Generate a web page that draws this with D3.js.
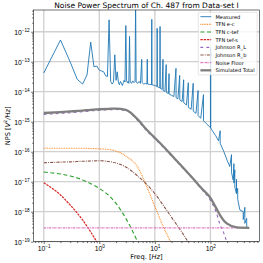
<!DOCTYPE html>
<html>
<head>
<meta charset="utf-8">
<script src="https://cdn.jsdelivr.net/npm/d3@7/dist/d3.min.js"></script>
<style>
  html, body { margin: 0; padding: 0; background: #fff; }
  svg { display: block; font-family: 'DejaVu Sans', sans-serif; }
</style>
</head>
<body>
<svg id="chart" width="263" height="263"></svg>
<script>
// measured spectrum (Hz -> V^2/Hz)
const measuredFreq = [
  0.1, 0.2, 0.3, 0.4, 0.5, 0.6, 0.7, 0.8, 0.9, 1.0, 1.1, 1.2, 1.3, 1.4, 1.5, 1.6, 1.7, 1.8, 1.9, 2.0,
  2.1, 2.2, 2.3, 2.4, 2.5, 2.6, 2.7, 2.8, 2.9, 3.0, 3.1, 3.2, 3.3, 3.4, 3.5, 3.6, 3.8, 4.0, 4.2, 4.4,
  4.5, 4.6, 4.9, 5.2, 5.5, 5.8, 5.9, 6.3, 6.8, 7.2, 7.3, 7.4, 8.0, 8.7, 8.8, 8.9, 9.5, 10.2, 10.9, 11.0,
  11.1, 11.8, 12.3, 12.4, 12.5, 13.5, 14.0, 14.1, 15.2, 16.0, 16.1, 17.5, 18.0, 18.1, 20.0, 22.0, 24.0, 24.1, 26.0, 28.0,
  28.1, 31.0, 33.0, 33.1, 37.0, 40.0, 40.1, 45.0, 49.0, 49.1, 55.0, 60.0, 60.1, 67.0, 75.0, 75.1, 85.0, 95.0, 100.9, 101.0,
  101.1, 110, 125, 140, 150, 150.1, 175, 200, 215, 223, 240, 240.1, 257, 265, 265.1, 275, 275.1, 294, 295, 295.1,
  310, 310.1, 339, 390, 390.1, 417, 417.1, 450, 450.1, 480, 500
]
const measuredNps = [
  4.2e-14, 5.3e-13, 9.7e-14, 2.6e-14, 1.8e-14, 3.6e-14, 4.5e-13, 6.8e-14, 7.2e-14, 5.2e-14, 4.9e-14, 4.6e-14, 3.4e-14, 3.2e-14, 2.5e-12, 2.2e-14, 1.8e-14, 2.1e-14, 1.7e-13, 2.4e-14,
  4.6e-14, 2.1e-14, 1.7e-14, 2.2e-14, 1.9e-14, 1.6e-14, 2.0e-14, 2.4e-14, 2.1e-14, 1.6e-12, 2.3e-14, 2.0e-14, 2.2e-14, 1.9e-14, 7.0e-13, 2.1e-14, 1.9e-14, 2.3e-14, 2.0e-14, 2.2e-14,
  1.2e-11, 2.1e-14, 1.9e-14, 2.2e-14, 1.9e-14, 1.2e-13, 2.0e-14, 1.8e-14, 1.9e-14, 1.8e-14, 1.2e-13, 1.8e-14, 1.75e-14, 1.7e-14, 2.6e-12, 1.7e-14, 1.65e-14, 1.6e-14, 1.5e-14, 1.3e-12,
  1.45e-14, 1.4e-14, 1.35e-14, 1.5e-12, 1.3e-14, 1.2e-14, 1.2e-13, 1.1e-14, 1.03e-14, 8e-14, 9.5e-15, 8.7e-15, 4e-14, 8.3e-15, 7.6e-15, 6.9e-15, 6e-14, 6.3e-15, 5.8e-15, 3.5e-14,
  5.3e-15, 4.7e-15, 2.5e-14, 4.3e-15, 3.6e-15, 2e-14, 3.0e-15, 2.6e-15, 1.9e-14, 2.25e-15, 1.9e-15, 1.1e-14, 1.6e-15, 1.3e-15, 8e-15, 1.08e-15, 8.5e-16, 7e-16, 6.3e-16, 3e-13,
  6.2e-16, 4.8e-16, 3.4e-16, 2.3e-16, 5e-16, 1.9e-16, 1.0e-16, 5.2e-17, 3.8e-17, 3.2e-17, 8e-17, 2e-17, 1.15e-17, 4e-17, 9e-18, 2.5e-17, 6.5e-18, 4.1e-18, 1.2e-17, 4e-18,
  6e-18, 2.6e-18, 1.15e-18, 1e-18, 5.5e-19, 1.4e-18, 4.1e-19, 6e-19, 3.3e-19, 2.8e-19, 2.7e-19
]

// fitted model components, sampled at these frequencies
const modelFreq = [0.1, 0.2, 0.3, 0.5, 0.7, 1, 1.5, 2, 3, 5, 7, 10, 15, 20, 30, 50, 70, 100, 125, 150, 175, 200, 300, 500]
const tfnEC = [1.3e-16, 1.3e-16, 1.3e-16, 1.3e-16, 1.28e-16, 1.25e-16, 1.18e-16, 1.05e-16, 7.2e-17, 2.9e-17, 7.5e-18, 1.5e-18,
  2.5e-19, 8.5e-20, 1.2e-20, 1e-21, 2e-22, 3e-23, 1e-23, 5e-24, 3e-24, 2e-24, 5e-25, 1e-25]
const tfnCTef = [2.1e-17, 1.8e-17, 1.55e-17, 1.15e-17, 8.6e-18, 6e-18, 3.4e-18, 1.9e-18, 6e-19, 9e-20, 2e-20, 3e-21,
  4e-22, 1e-22, 1e-23, 1e-24, 3e-25, 1e-25, 5e-26, 3e-26, 2e-26, 1e-26, 3e-27, 1e-27]
const tfnTefS = [9.3e-18, 3.6e-18, 1.65e-18, 5.3e-19, 2.1e-19, 7e-20, 1.5e-20, 4e-21, 5e-22, 3e-23, 5e-24, 8e-25,
  1e-25, 3e-26, 4e-27, 3e-28, 6e-29, 1e-29, 5e-30, 3e-30, 2e-30, 1e-30, 2e-31, 3e-32]
const johnsonRL = [1.75e-15, 1.9e-15, 2.0e-15, 2.15e-15, 2.3e-15, 2.4e-15, 2.5e-15, 2.55e-15, 2.35e-15, 1.07e-15, 5.2e-16, 2.7e-16,
  1.27e-16, 7.2e-17, 3.2e-17, 1.15e-17, 5.5e-18, 2.4e-18, 1.05e-18, 3.6e-19, 1.9e-19, 9e-20, 5e-21, 1e-22]
const johnsonRb = [4.3e-17, 4.5e-17, 4.6e-17, 4.8e-17, 4.9e-17, 5e-17, 4.7e-17, 4.2e-17, 3.1e-17, 1.5e-17, 8.5e-18, 4e-18,
  1.4e-18, 6.5e-19, 2.2e-19, 5e-20, 2e-20, 6e-21, 3e-21, 2e-21, 1.2e-21, 8e-22, 2e-22, 4e-23]
const noiseFloor = [2.9e-19, 2.9e-19, 2.9e-19, 2.9e-19, 2.9e-19, 2.9e-19, 2.9e-19, 2.9e-19, 2.9e-19, 2.9e-19, 2.9e-19, 2.9e-19,
  2.9e-19, 2.9e-19, 2.9e-19, 2.9e-19, 2.9e-19, 2.9e-19, 2.9e-19, 2.9e-19, 2.9e-19, 2.9e-19, 2.9e-19, 2.9e-19]
const simulatedTotal = [1.95e-15, 2.1e-15, 2.2e-15, 2.35e-15, 2.5e-15, 2.6e-15, 2.7e-15, 2.75e-15, 2.5e-15, 1.15e-15, 5.6e-16, 2.9e-16,
  1.35e-16, 7.6e-17, 3.4e-17, 1.2e-17, 5.9e-18, 2.9e-18, 1.4e-18, 7.5e-19, 5e-19, 4e-19, 3e-19, 2.9e-19]

const seriesLabels = ['Measured', 'TFN e-c', 'TFN c-tef', 'TFN tef-s', 'Johnson R_L', 'Johnson R_b', 'Noise Floor', 'Simulated Total']
const xTickValues = [0.1, 1, 10, 100]
const yTickValues = [1e-19, 1e-18, 1e-17, 1e-16, 1e-15, 1e-14, 1e-13, 1e-12]

//global layout
const w = 263
const h = 263
const plot = { left: 33.5, right: 259.5, top: 10, bottom: 241.7 }

// matplotlib-ish 5% log margin on the frequency axis
const fLo = Math.log10(d3.min(measuredFreq))
const fHi = Math.log10(d3.max(measuredFreq))
const fPad = (fHi - fLo) * 0.05

const x = d3.scaleLog()
            .domain([Math.pow(10, fLo - fPad), Math.pow(10, fHi + fPad)])
            .range([plot.left, plot.right])
const y = d3.scaleLog()
            .domain([1e-19, 5.3e-12])
            .range([plot.bottom, plot.top])

const styles = [
  { color: '#1f77b4', width: 0.9, dash: null },
  { color: '#ff7f0e', width: 1.1, dash: '0.8,0.9' },
  { color: '#2ca02c', width: 1.1, dash: '4,2.6' },
  { color: '#d62728', width: 1.2, dash: '2.4,0.9' },
  { color: '#9467bd', width: 1.1, dash: '2.8,3.2' },
  { color: '#8c564b', width: 1.1, dash: '3.2,1.1,0.9,1.1' },
  { color: '#e377c2', width: 1.1, dash: '2.4,0.8,0.8,0.8' },
  { color: '#7f7f7f', width: 2.3, dash: null }
]

const modelValues = [tfnEC, tfnCTef, tfnTefS, johnsonRL, johnsonRb, noiseFloor, simulatedTotal]
const series = [
  { label: seriesLabels[0], points: measuredFreq.map((f, i) => [f, measuredNps[i]]), curve: d3.curveLinear, ...styles[0] },
  ...modelValues.map((vals, k) => ({
    label: seriesLabels[k + 1],
    points: modelFreq.map((f, i) => [f, vals[i]]),
    curve: d3.curveMonotoneX,
    ...styles[k + 1]
  }))
]

const svg = d3.select('#chart')
svg.append('rect').attr('width', w).attr('height', h).attr('fill', '#fff')

svg.append('defs').append('clipPath').attr('id', 'plot-clip')
   .append('rect')
   .attr('x', plot.left).attr('y', plot.top)
   .attr('width', plot.right - plot.left).attr('height', plot.bottom - plot.top)

// grid
const grid = svg.append('g').attr('stroke', '#d0d0d0').attr('stroke-width', 1.3)
grid.selectAll('.gx').data(xTickValues).join('line')
    .attr('x1', d => x(d)).attr('x2', d => x(d))
    .attr('y1', plot.top).attr('y2', plot.bottom)
grid.selectAll('.gy').data(yTickValues).join('line')
    .attr('x1', plot.left).attr('x2', plot.right)
    .attr('y1', d => y(d)).attr('y2', d => y(d))

// curves
const line = d3.line().x(d => x(d[0])).y(d => y(Math.max(d[1], 1e-40)))
svg.append('g').attr('clip-path', 'url(#plot-clip)')
   .selectAll('path')
   .data(series)
   .join('path')
   .attr('d', s => line.curve(s.curve)(s.points))
   .attr('fill', 'none')
   .attr('stroke', s => s.color)
   .attr('stroke-width', s => s.width)
   .attr('stroke-dasharray', s => s.dash)
   .attr('stroke-linejoin', 'round')

// axes
const sup = v => String(Math.round(Math.log10(v))).replace('-', '\u2212')
const powLabel = (text, v) => {
  text.append('tspan').text('10')
  text.append('tspan').attr('font-size', 4.7).attr('dy', -3).text(sup(v))
}

const isMajor = (ticks, t) => ticks.some(m => Math.abs(m - t) / m < 1e-6)
const xMinor = x.ticks().filter(t => !isMajor(xTickValues, t))
const yMinor = y.ticks().filter(t => !isMajor(yTickValues, t))

const xAxis = svg.append('g').attr('transform', `translate(0,${plot.bottom})`)
xAxis.append('g').call(d3.axisBottom(x).tickValues(xMinor).tickSize(1.4).tickFormat(''))
const xMajor = xAxis.append('g').call(d3.axisBottom(x).tickValues(xTickValues).tickSize(2.4).tickFormat(''))
xAxis.selectAll('.domain').remove()
xAxis.selectAll('.tick line').attr('stroke-width', 0.55)
xAxis.selectAll('.tick text').remove()
xMajor.selectAll('.tick')
      .append('text')
      .attr('y', 9.6)
      .attr('text-anchor', 'middle')
      .attr('font-size', 6.8)
      .attr('fill', '#000')
      .each(function (d) { powLabel(d3.select(this), d) })

const yAxis = svg.append('g').attr('transform', `translate(${plot.left},0)`)
yAxis.append('g').call(d3.axisLeft(y).tickValues(yMinor).tickSize(1.4).tickFormat(''))
const yMajor = yAxis.append('g').call(d3.axisLeft(y).tickValues(yTickValues).tickSize(2.4).tickFormat(''))
yAxis.selectAll('.domain').remove()
yAxis.selectAll('.tick line').attr('stroke-width', 0.55)
yAxis.selectAll('.tick text').remove()
yMajor.selectAll('.tick')
      .append('text')
      .attr('x', -3.8)
      .attr('y', 2.4)
      .attr('text-anchor', 'end')
      .attr('font-size', 6.8)
      .attr('fill', '#000')
      .each(function (d) { powLabel(d3.select(this), d) })

// frame
svg.append('rect')
   .attr('x', plot.left).attr('y', plot.top)
   .attr('width', plot.right - plot.left).attr('height', plot.bottom - plot.top)
   .attr('fill', 'none').attr('stroke', '#000').attr('stroke-width', 0.55)

// title + labels
const midX = (plot.left + plot.right) / 2
svg.append('text')
   .attr('x', midX).attr('y', 7.9)
   .attr('text-anchor', 'middle')
   .attr('font-size', 7.5)
   .text('Noise Power Spectrum of Ch. 487 from Data-set I')

const xLabel = svg.append('text')
   .attr('x', midX).attr('y', 259.3)
   .attr('text-anchor', 'middle')
   .attr('font-size', 6.7)
xLabel.append('tspan').text('Freq. [')
xLabel.append('tspan').attr('font-style', 'italic').text('Hz')
xLabel.append('tspan').text(']')

const yLabel = svg.append('text')
   .attr('transform', `translate(9.6,${(plot.top + plot.bottom) / 2}) rotate(-90)`)
   .attr('text-anchor', 'middle')
   .attr('font-size', 6.7)
yLabel.append('tspan').text('NPS [')
yLabel.append('tspan').attr('font-style', 'italic').text('V')
yLabel.append('tspan').attr('font-size', 4.6).attr('dy', -2.8).text('2')
yLabel.append('tspan').attr('dy', 2.8).attr('font-style', 'italic').text('/Hz')
yLabel.append('tspan').text(']')

// legend
const legendBox = { x: 198.3, y: 12.3, w: 58.8, h: 62.6 }
const rowH = 7.66
const legend = svg.append('g')
legend.append('rect')
      .attr('x', legendBox.x).attr('y', legendBox.y)
      .attr('width', legendBox.w).attr('height', legendBox.h)
      .attr('rx', 1).attr('ry', 1)
      .attr('fill', '#fff').attr('fill-opacity', 0.8)
      .attr('stroke', '#cccccc').attr('stroke-width', 0.5)

const rows = legend.selectAll('.row')
                   .data(series)
                   .join('g')
                   .attr('transform', (_, i) => `translate(0,${16.7 + i * rowH})`)
rows.append('line')
    .attr('x1', 200.4).attr('x2', 211.2)
    .attr('stroke', s => s.color)
    .attr('stroke-width', s => s.width)
    .attr('stroke-dasharray', s => s.dash)
rows.append('text')
    .attr('x', 215.4).attr('y', 1.9)
    .attr('font-size', 5.1)
    .text(s => s.label)
</script>
</body>
</html>
